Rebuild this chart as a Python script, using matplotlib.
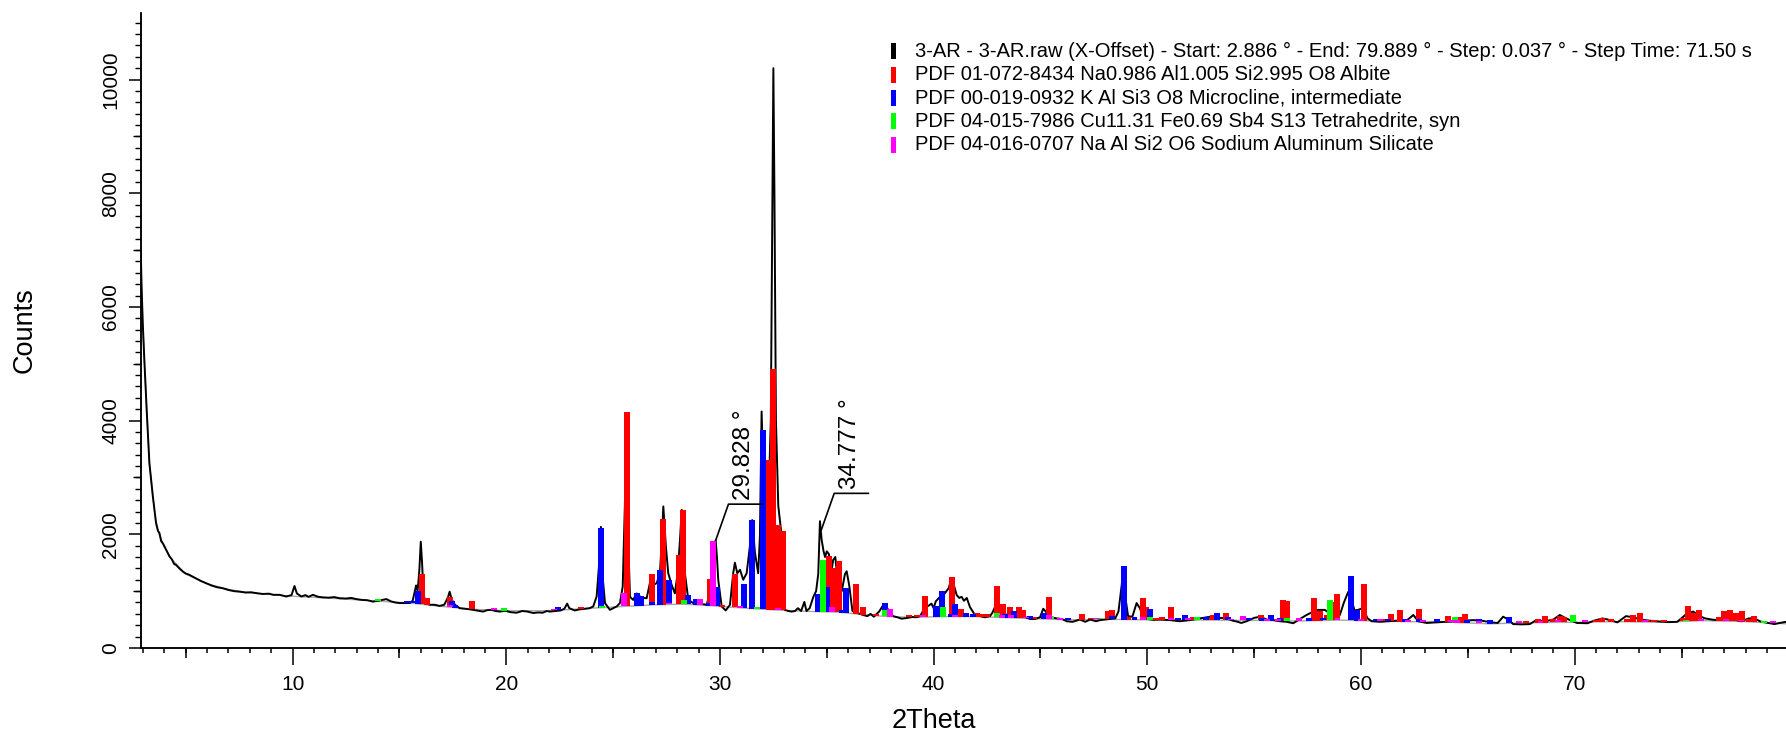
import numpy as np
import matplotlib
matplotlib.use("Agg")
import matplotlib.pyplot as plt
from matplotlib.ticker import MultipleLocator, FixedLocator
from matplotlib.patches import Rectangle

plt.rcParams['font.family'] = ['Liberation Sans', 'DejaVu Sans']

# ---------------- measured scan (2Theta, Counts) ----------------
scan_theta = [2.886, 2.9, 2.93, 2.99, 3.07, 3.18, 3.3, 3.46, 3.61, 3.7, 3.77, 3.85, 3.93, 4.0, 4.12, 4.24,
              4.35, 4.45, 4.55, 4.7, 4.86, 5.0, 5.15, 5.33, 5.5, 5.7, 5.95, 6.2, 6.45, 6.74, 7.0, 7.25,
              7.52, 7.8, 8.05, 8.3, 8.6, 8.9, 9.1, 9.39, 9.7, 9.95, 10.09, 10.2, 10.41, 10.6, 10.75,
              10.95, 11.2, 11.42, 11.7, 11.95, 12.2, 12.5, 12.75, 12.98, 13.25, 13.5, 13.76, 14.0, 14.2,
              14.39, 14.6, 14.8, 15.01, 15.25, 15.48, 15.62, 15.72, 15.78, 15.85, 15.93, 16.0, 16.06,
              16.12, 16.2, 16.41, 16.65, 16.88, 17.1, 17.28, 17.35, 17.45, 17.6, 17.82, 18.05, 18.29,
              18.6, 18.92, 19.1, 19.3, 19.5, 19.7, 19.95, 20.2, 20.48, 20.75, 21.0, 21.26, 21.5, 21.7,
              21.9, 22.04, 22.3, 22.55, 22.72, 22.85, 22.95, 23.2, 23.45, 23.7, 23.9, 24.07, 24.23,
              24.35, 24.43, 24.5, 24.62, 24.85, 25.0, 25.17, 25.32, 25.45, 25.55, 25.63, 25.7, 25.79,
              25.94, 26.1, 26.26, 26.4, 26.57, 26.72, 26.88, 27.04, 27.19, 27.28, 27.35, 27.47, 27.58,
              27.74, 27.89, 28.02, 28.13, 28.21, 28.3, 28.36, 28.52, 28.75, 29.06, 29.2, 29.38, 29.61,
              29.72, 29.8, 29.86, 29.92, 30.08, 30.27, 30.47, 30.62, 30.7, 30.81, 30.94, 31.09, 31.25,
              31.4, 31.51, 31.64, 31.79, 31.87, 31.95, 32.03, 32.11, 32.26, 32.38, 32.46, 32.5, 32.55,
              32.62, 32.73, 32.85, 32.96, 33.04, 33.2, 33.35, 33.51, 33.65, 33.8, 33.95, 34.05, 34.2,
              34.37, 34.5, 34.6, 34.68, 34.76, 34.85, 34.92, 35.0, 35.1, 35.2, 35.3, 35.4, 35.54, 35.7,
              35.85, 35.93, 36.05, 36.2, 36.4, 36.55, 36.7, 36.9, 37.05, 37.2, 37.45, 37.65, 37.8,
              37.95, 38.1, 38.3, 38.5, 38.8, 39.0, 39.2, 39.37, 39.5, 39.6, 39.75, 39.9, 40.0, 40.1,
              40.3, 40.5, 40.7, 40.85, 40.95, 41.08, 41.2, 41.31, 41.42, 41.55, 41.7, 41.9, 42.17,
              42.4, 42.64, 42.75, 42.87, 42.95, 43.1, 43.3, 43.57, 43.8, 44.04, 44.3, 44.51, 44.75,
              44.98, 45.13, 45.25, 45.38, 45.76, 46.0, 46.23, 46.5, 46.85, 47.1, 47.32, 47.6, 47.79,
              48.0, 48.25, 48.5, 48.65, 48.8, 48.88, 48.97, 49.1, 49.3, 49.5, 49.65, 49.8, 50.0, 50.27,
              50.59, 51.06, 51.3, 51.52, 51.99, 52.46, 52.93, 53.1, 53.4, 53.71, 54.0, 54.18, 54.4,
              54.65, 55.0, 55.3, 55.58, 55.9, 56.2, 56.52, 56.83, 57.1, 57.45, 57.77, 58.0, 58.3,
              58.55, 58.8, 59.01, 59.2, 59.4, 59.55, 59.7, 59.85, 60.1, 60.3, 60.5, 60.9, 61.27,
              61.66, 62.13, 62.45, 62.68, 63.07, 63.54, 64.0, 64.39, 64.78, 65.25, 65.64, 66.11,
              66.4, 66.65, 66.9, 67.12, 67.5, 67.9, 68.2, 68.61, 69.0, 69.3, 69.6, 70.1, 70.6, 70.9,
              71.3, 71.55, 72.0, 72.4, 72.74, 73.1, 73.5, 74.0, 74.4, 74.8, 75.24, 75.55, 75.85, 76.1,
              76.5, 77.0, 77.43, 77.8, 78.15, 78.4, 78.7, 79.0, 79.35, 79.6, 79.889]
scan_counts = [7000, 6950, 6400, 5700, 5010, 4130, 3250, 2670, 2200, 2060, 2020, 1880, 1840, 1790, 1700, 1610,
               1560, 1480, 1460, 1400, 1345, 1310, 1290, 1255, 1220, 1180, 1140, 1100, 1070, 1050, 1020,
               1000, 990, 975, 980, 965, 950, 955, 935, 935, 905, 930, 1090, 960, 905, 930, 900, 935,
               900, 890, 885, 895, 875, 870, 880, 860, 845, 840, 815, 830, 845, 860, 820, 800, 790,
               790, 790, 830, 1000, 1100, 1000, 1350, 1870, 1500, 1000, 800, 760, 760, 740, 760, 900,
               990, 850, 760, 700, 690, 680, 660, 640, 665, 670, 650, 640, 655, 630, 620, 650, 640,
               615, 625, 620, 650, 640, 650, 660, 690, 780, 700, 660, 680, 690, 700, 730, 905, 1500,
               2130, 1300, 790, 670, 700, 730, 790, 1080, 2500, 4130, 2000, 900, 845, 960, 905, 880,
               875, 1140, 1110, 1140, 1315, 1900, 2490, 1785, 1315, 1110, 960, 1315, 1900, 2430,
               1800, 1315, 845, 790, 790, 770, 760, 1080, 1600, 1890, 1600, 1200, 730, 660, 760,
               1315, 1500, 1315, 1375, 1200, 1315, 1785, 2250, 1670, 1315, 1960, 4160, 3000, 1990,
               2400, 4000, 8000, 10200, 8000, 4000, 2500, 2100, 1500, 670, 650, 640, 650, 700, 650,
               810, 650, 700, 900, 1000, 1300, 2230, 1900, 1700, 1600, 1700, 1650, 1300, 1550, 1600,
               1050, 1000, 1300, 1350, 1100, 650, 620, 600, 580, 560, 600, 550, 640, 760, 720, 620,
               560, 540, 515, 530, 545, 540, 560, 650, 760, 740, 780, 700, 820, 900, 950, 1050, 1230,
               1100, 930, 880, 900, 830, 880, 720, 600, 560, 540, 560, 620, 720, 700, 620, 580, 600,
               570, 570, 540, 510, 510, 540, 690, 640, 550, 520, 510, 470, 460, 500, 460, 500, 470,
               490, 500, 510, 520, 640, 1100, 1350, 900, 560, 550, 790, 700, 550, 510, 495, 500, 490,
               480, 470, 490, 520, 550, 560, 530, 520, 480, 465, 440, 470, 530, 550, 500, 490, 470,
               460, 435, 500, 580, 640, 670, 670, 610, 600, 580, 800, 985, 850, 660, 670, 700, 523,
               470, 460, 470, 480, 480, 580, 470, 440, 450, 460, 470, 480, 490, 480, 450, 440, 550,
               500, 420, 415, 420, 490, 470, 500, 580, 520, 440, 435, 480, 520, 500, 450, 560, 540,
               500, 480, 465, 455, 460, 600, 640, 560, 520, 495, 490, 500, 470, 520, 520, 465, 445,
               420, 440, 460]

# ---------------- fitted background (grey line) ----------------
bg_theta = [2.886, 2.99, 3.07, 3.18, 3.3, 3.46, 3.61, 3.8, 4.0, 4.3, 5.0, 6.0, 7.0, 8.0, 10.0, 12.0,
            14.0, 15.5, 17.0, 18.5, 20.0, 22.0, 24.0, 25.5, 27.0, 28.3, 29.5, 31.0, 32.5, 34.0, 35.5,
            36.5, 37.7, 39.0, 40.5, 42.0, 44.0, 45.0, 46.3, 48.0, 50.0, 53.0, 55.0, 57.0, 59.0, 60.0,
            62.0, 64.0, 66.0, 68.0, 70.0, 72.0, 74.0, 76.0, 78.0, 79.889]
bg_counts = [7000, 5700, 5010, 4130, 3250, 2670, 2200, 1960, 1780, 1580, 1300, 1130, 1030, 970, 910,
             870, 825, 790, 730, 680, 655, 655, 700, 730, 760, 770, 745, 705, 670, 645, 630, 595, 555,
             540, 552, 552, 525, 512, 495, 505, 495, 490, 485, 475, 490, 481, 464, 455, 425, 445, 452,
             464, 452, 481, 464, 425]

# ---------------- reference patterns: position and top of each stick ----------------
albite_theta = [16.05, 16.29, 17.36, 18.4, 23.52, 25.63, 26.83, 27.35, 28.08, 28.28, 29.53, 30.1, 30.7,
                32.29, 32.5, 32.73, 32.96, 35.1, 35.31, 35.57, 36.36, 36.71, 37.3, 38.85, 39.24, 39.6,
                40.85, 41.29, 42.05, 42.27, 42.52, 42.96, 43.23, 43.59, 44.01, 44.18, 44.72, 45.38,
                46.94, 47.36, 48.16, 48.35, 49.1, 49.78, 49.96, 50.42, 50.7, 51.1, 52.12, 52.97, 53.07,
                53.69, 55.33, 56.34, 56.54, 57.79, 58.06, 58.42, 58.64, 58.86, 60.15, 60.98, 61.41,
                61.82, 62.73, 64.07, 64.62, 64.85, 67.7, 68.28, 68.63, 69.0, 69.3, 69.49, 70.5, 70.98,
                71.3, 71.69, 72.43, 72.75, 73.06, 73.4, 73.7, 74.2, 75.07, 75.3, 75.55, 75.81, 76.75,
                77.01, 77.29, 77.53, 77.83, 78.16, 78.4]
albite_top = [1300, 875, 890, 820, 720, 4150, 1300, 2270, 1630, 2430, 1215, 728, 1300, 3310, 4910,
              2170, 2050, 1620, 1400, 1530, 1127, 728, 600, 545, 555, 916, 1245, 681, 622, 592, 590,
              1092, 775, 717, 717, 669, 530, 904, 598, 525, 657, 669, 552, 875, 717, 515, 552, 717,
              545, 515, 580, 611, 587, 845, 828, 875, 651, 581, 804, 951, 1127, 511, 599, 669, 681,
              564, 552, 599, 480, 511, 564, 511, 570, 540, 480, 480, 523, 511, 511, 581, 611, 500,
              490, 485, 523, 734, 622, 669, 540, 658, 669, 611, 658, 511, 564]

microcline_theta = [15.35, 15.6, 15.87, 17.46, 17.6, 22.43, 24.44, 26.1, 26.3, 26.83, 27.2, 27.63,
                    28.52, 28.86, 29.5, 29.86, 31.12, 31.51, 32.03, 34.57, 35.0, 35.71, 35.91, 37.72,
                    40.09, 40.37, 40.82, 41.0, 41.51, 41.82, 43.32, 43.77, 44.51, 45.17, 46.27, 47.6,
                    48.35, 48.89, 49.4, 50.14, 51.42, 51.77, 52.76, 53.27, 53.77, 54.75, 55.37, 55.79,
                    56.23, 57.56, 58.2, 59.51, 59.81, 60.69, 61.25, 62.04, 62.73, 63.54, 64.95, 65.54,
                    66.05, 66.94]
microcline_top = [820, 830, 1004, 822, 764, 717, 2110, 963, 916, 816, 1374, 1197, 934, 863, 787, 1068,
                  1127, 2254, 3830, 951, 1080, 669, 1051, 787, 739, 1002, 592, 775, 611, 592, 592, 651,
                  563, 622, 523, 520, 560, 1444, 552, 681, 523, 587, 545, 611, 545, 523, 523, 587, 523,
                  523, 520, 1268, 669, 511, 511, 511, 511, 511, 500, 511, 490, 552]

tetrahedrite_theta = [13.98, 19.9, 24.46, 28.3, 31.72, 34.84, 37.74, 40.46, 42.96, 45.5, 47.75, 50.14,
                      52.33, 56.54, 58.56, 64.38, 69.94, 75.2, 78.87]
tetrahedrite_top = [834, 699, 730, 845, 710, 1550, 669, 717, 622, 540, 525, 540, 545, 523, 845, 546,
                    581, 500, 470]

nasilicate_theta = [17.36, 19.41, 22.22, 25.5, 27.63, 29.06, 29.69, 30.94, 32.73, 35.23, 37.98, 39.5,
                    41.0, 43.2, 43.6, 44.3, 45.38, 45.9, 47.6, 49.78, 51.1, 51.9, 53.9, 54.46, 55.6,
                    56.1, 57.12, 58.9, 60.0, 60.9, 62.2, 62.9, 64.2, 64.5, 65.5, 67.4, 68.4, 69.2, 70.5,
                    73.3, 75.9, 77.1, 77.8, 79.3]
nasilicate_top = [760, 681, 690, 963, 780, 863, 1873, 710, 690, 728, 681, 580, 580, 575, 575, 550, 575,
                  535, 520, 545, 530, 515, 510, 566, 510, 510, 523, 510, 500, 490, 485, 490, 490, 485,
                  480, 465, 475, 485, 475, 485, 505, 495, 490, 455]

legend_labels = [
    "3-AR - 3-AR.raw (X-Offset) - Start: 2.886 ° - End: 79.889 ° - Step: 0.037 ° - Step Time: 71.50 s",
    "PDF 01-072-8434 Na0.986 Al1.005 Si2.995 O8 Albite",
    "PDF 00-019-0932 K Al Si3 O8 Microcline, intermediate",
    "PDF 04-015-7986 Cu11.31 Fe0.69 Sb4 S13 Tetrahedrite, syn",
    "PDF 04-016-0707 Na Al Si2 O6 Sodium Aluminum Silicate",
]
legend_colors = ["#000000", "#ff0000", "#0000ff", "#00ff00", "#ff00ff"]

peak_label_theta = [29.828, 34.777]
peak_label_counts = [1890, 2080]

# ---------------- figure ----------------
fig = plt.figure(figsize=(17.86, 7.32), dpi=100)
ax = fig.add_axes([0.0787, 0.1148, 0.9213, 0.8674])

ax.plot(bg_theta, bg_counts, color="#a8a8a8", lw=1.0, zorder=1)
ax.plot(scan_theta, scan_counts, color="black", lw=1.4, zorder=2)

phases = [(albite_theta, albite_top, legend_colors[1]),
          (microcline_theta, microcline_top, legend_colors[2]),
          (tetrahedrite_theta, tetrahedrite_top, legend_colors[3]),
          (nasilicate_theta, nasilicate_top, legend_colors[4])]
for th, top, col in phases:
    th = np.asarray(th, float)
    top = np.asarray(top, float)
    base = np.interp(th, bg_theta, bg_counts)
    h = np.maximum(top - base, 30)
    ax.bar(th, h, bottom=base, width=0.28, color=col, linewidth=0, zorder=3)

# peak annotations with leader lines
for pt, pc, lab in zip(peak_label_theta, peak_label_counts, ["%.3f °" % v for v in peak_label_theta]):
    x0 = pt - 0.03
    ex = x0 + 0.6
    ey = pc + 640
    ax.plot([x0, ex, ex + 1.6], [pc, ey, ey], color="black", lw=1.2, zorder=4)
    ax.text(ex + 0.74, ey + 80, lab, rotation=90, ha="center", va="bottom",
            fontsize=17.5, zorder=5)

ax.set_xlim(2.886, 79.889)
ax.set_ylim(0, 11170)

for s in ("top", "right"):
    ax.spines[s].set_visible(False)
for s in ("left", "bottom"):
    ax.spines[s].set_linewidth(1.1)

ax.xaxis.set_major_locator(MultipleLocator(10))
ax.xaxis.set_minor_locator(MultipleLocator(1))
ax.tick_params(axis="x", which="major", direction="out", length=12.2, width=1.1,
               labelsize=15, pad=7)
ax.tick_params(axis="x", which="minor", direction="out", length=3.6, width=1.1)

ax.yaxis.set_major_locator(MultipleLocator(2000))
ax.yaxis.set_minor_locator(MultipleLocator(200))
ax.tick_params(axis="y", which="major", direction="out", length=8.6, width=1.1,
               labelsize=15, pad=6, labelrotation=90)
ax.tick_params(axis="y", which="minor", direction="out", length=4.0, width=1.0)
for lbl in ax.get_yticklabels():
    lbl.set_va("center")

secx = ax.secondary_xaxis("bottom")
secx.xaxis.set_major_locator(FixedLocator(np.arange(5, 80, 10)))
secx.tick_params(axis="x", which="major", direction="out", length=7.2, width=1.1, labelbottom=False)
secx.spines["bottom"].set_linewidth(1.1)

secy = ax.secondary_yaxis("left")
secy.yaxis.set_major_locator(FixedLocator(np.arange(1000, 11000, 2000)))
secy.tick_params(axis="y", which="major", direction="out", length=6.0, width=1.0, labelleft=False)
secy.spines["left"].set_linewidth(1.1)

fig.text(25 / 1786, 1 - 330 / 732, "Counts", rotation=90, ha="center", va="center", fontsize=19.5)
fig.text(934 / 1786, 1 - 721 / 732, "2Theta", ha="center", va="center", fontsize=19.5)

# legend
for i, (lab, col) in enumerate(zip(legend_labels, legend_colors)):
    yc = 51.3 + 23.35 * i
    fig.add_artist(Rectangle((891 / 1786, 1 - (yc + 8) / 732), 4.5 / 1786, 16 / 732,
                             transform=fig.transFigure, color=col, lw=0))
    fig.text(914.6 / 1786, 1 - yc / 732, lab, ha="left", va="center", fontsize=14.5)

fig.savefig("out.png", dpi=100)
